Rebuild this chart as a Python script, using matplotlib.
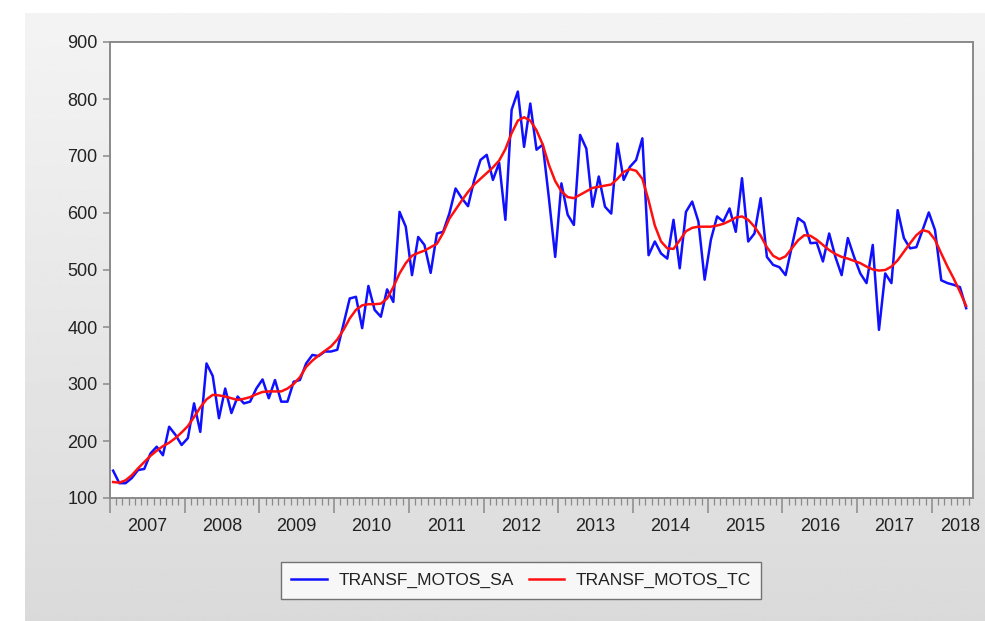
import numpy as np
import matplotlib
matplotlib.use("Agg")
import matplotlib.pyplot as plt
from matplotlib.lines import Line2D

# Monthly series, 2007M01 - 2018M06
start_year = 2007
year_labels = ["2007", "2008", "2009", "2010", "2011", "2012",
               "2013", "2014", "2015", "2016", "2017", "2018"]

transf_motos_sa = [
    148, 126, 126, 135, 149, 151, 178, 190, 175, 225, 211, 193,   # 2007
    205, 266, 216, 336, 314, 240, 292, 249, 278, 266, 269, 292,   # 2008
    308, 275, 307, 269, 269, 304, 307, 336, 351, 349, 357, 357,   # 2009
    360, 405, 450, 453, 398, 472, 430, 418, 466, 444, 602, 576,   # 2010
    491, 558, 544, 495, 564, 567, 599, 643, 626, 612, 658, 693,   # 2011
    702, 658, 688, 588, 781, 813, 716, 792, 711, 720, 625, 523,   # 2012
    652, 597, 579, 737, 713, 611, 664, 611, 599, 722, 658, 681,   # 2013
    693, 731, 526, 550, 529, 520, 588, 503, 602, 620, 585, 483,   # 2014
    553, 594, 585, 608, 567, 661, 550, 564, 626, 523, 509, 505,   # 2015
    491, 541, 591, 583, 547, 548, 515, 564, 523, 491, 556, 523,   # 2016
    494, 477, 544, 395, 494, 477, 605, 556, 538, 540, 570, 601,   # 2017
    570, 482, 477, 474, 470, 433,                                 # 2018
]

transf_motos_tc = [
    128, 127, 131, 140, 152, 163, 174, 183, 191, 197, 205, 215,   # 2007
    226, 242, 259, 273, 281, 280, 278, 275, 272, 274, 277, 282,   # 2008
    286, 287, 287, 287, 292, 300, 312, 330, 341, 350, 358, 366,   # 2009
    378, 395, 415, 430, 438, 440, 440, 441, 450, 470, 494, 512,   # 2010
    525, 530, 534, 540, 546, 565, 590, 606, 622, 637, 650, 660,   # 2011
    670, 680, 692, 712, 740, 762, 768, 762, 745, 720, 684, 656,   # 2012
    638, 628, 626, 632, 638, 644, 646, 648, 650, 660, 672, 677,   # 2013
    674, 660, 622, 578, 550, 538, 537, 552, 568, 574, 576, 576,   # 2014
    576, 578, 581, 586, 592, 594, 588, 576, 560, 540, 525, 519,   # 2015
    524, 538, 552, 561, 560, 553, 544, 535, 528, 523, 520, 516,   # 2016
    512, 506, 501, 499, 500, 506, 517, 532, 547, 561, 570, 567,   # 2017
    553, 529, 506, 485, 462, 437,                                 # 2018
]

sa_label = "TRANSF_MOTOS_SA"
tc_label = "TRANSF_MOTOS_TC"
y_ticks = [100, 200, 300, 400, 500, 600, 700, 800, 900]

W, H = 985, 621
plt.rcParams["font.family"] = ["Liberation Sans", "DejaVu Sans"]
text_color = "#222222"
frame_color = "#8a8a8a"
blue = "#1010ff"
red = "#ff1010"

fig = plt.figure(figsize=(W / 100, H / 100), dpi=100)
fig.patch.set_facecolor("white")

# gradient panel behind the graph
bg = fig.add_axes([0, 0, 1, 1], zorder=-10)
bg.set_xlim(0, W)
bg.set_ylim(H, 0)
grad = np.linspace(0.955, 0.855, 256).reshape(-1, 1)
bg.imshow(grad, extent=[25, W, H, 13], cmap="gray", vmin=0, vmax=1,
          aspect="auto", interpolation="bilinear")
bg.axis("off")

left, right, top, bottom = 110, 973, 42, 498
ax = fig.add_axes([left / W, 1 - bottom / H, (right - left) / W, (bottom - top) / H])
ax.set_facecolor("white")

n = len(transf_motos_sa)
x = np.arange(n)
ax.plot(x, transf_motos_sa, color=blue, lw=1.8, zorder=3)
ax.plot(x, transf_motos_tc, color=red, lw=1.8, zorder=4)

ax.set_xlim(-0.5, 138.1)
ax.set_ylim(100, 900)

for s in ax.spines.values():
    s.set_color(frame_color)
    s.set_linewidth(1.4)

ax.set_yticks(y_ticks)
ax.set_yticklabels([str(v) for v in y_ticks], fontsize=13, color=text_color)
ax.tick_params(axis="y", direction="out", length=5, width=1.1, color=frame_color, pad=4)

# monthly minor ticks, yearly major ticks
year_edges = np.arange(-0.5, n, 12)
month_edges = np.arange(-0.5, n + 0.5, 1)
ax.set_xticks(year_edges)
ax.set_xticklabels([])
ax.set_xticks(month_edges, minor=True)
ax.tick_params(axis="x", which="major", direction="out", length=11, width=1.1, color=frame_color)
ax.tick_params(axis="x", which="minor", direction="out", length=5, width=0.9, color=frame_color)

label_pos = [5.5 + 12 * k for k in range(len(year_labels) - 1)] + [136.0]
for lab, xp in zip(year_labels, label_pos):
    ax.annotate(lab, xy=(xp, 0), xycoords=("data", "axes fraction"),
                xytext=(0, -14.5), textcoords="offset points",
                ha="center", va="top", fontsize=13, color=text_color,
                annotation_clip=False)

handles = [Line2D([], [], color=blue, lw=1.8),
           Line2D([], [], color=red, lw=1.8)]
leg = fig.legend(handles, [sa_label, tc_label], loc="center",
                 bbox_to_anchor=(521 / W, 1 - 580.6 / H), ncol=2,
                 fontsize=12.5, frameon=True, fancybox=False,
                 handlelength=2.07, handletextpad=0.63, columnspacing=0.86,
                 borderpad=0.62, labelcolor=text_color)
leg.get_frame().set_edgecolor("#555555")
leg.get_frame().set_linewidth(1.0)
leg.get_frame().set_facecolor("white")

fig.savefig("out.png", dpi=100, facecolor=fig.get_facecolor())
